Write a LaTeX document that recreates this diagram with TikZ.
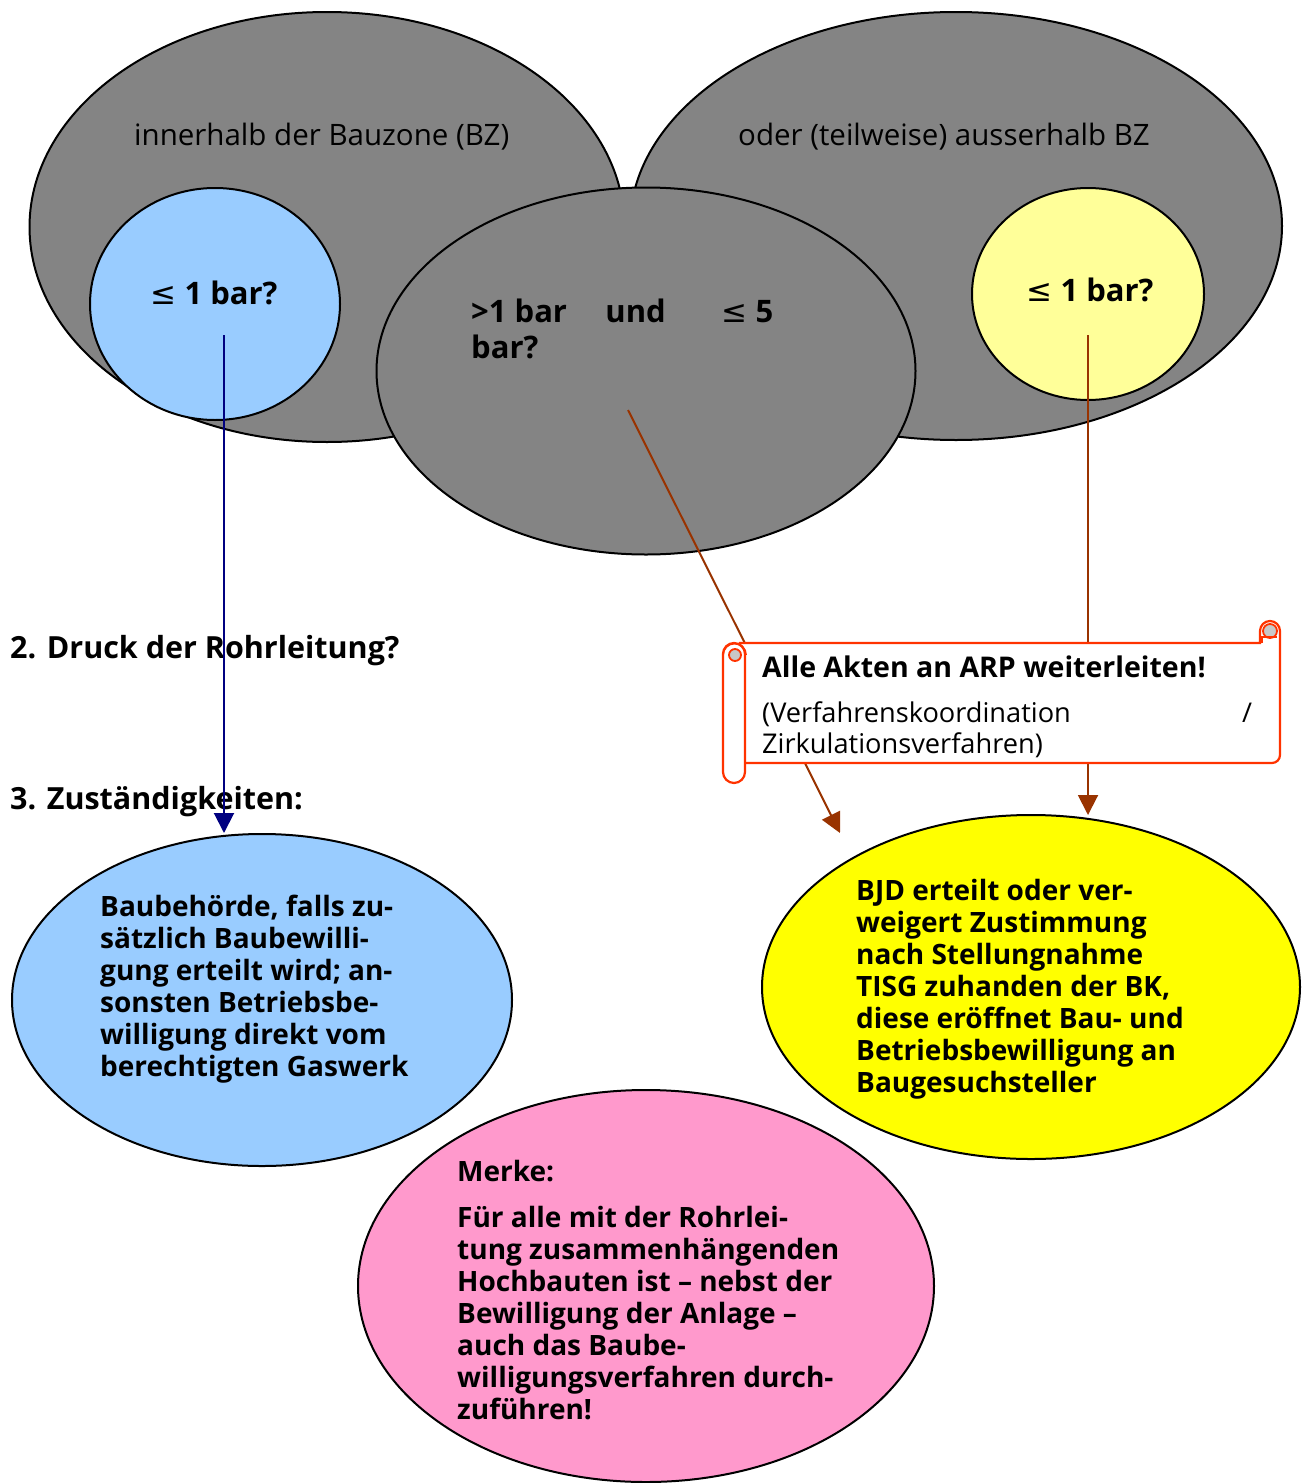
\documentclass[tikz,border=0pt]{standalone}
\usepackage{fontspec}
\setmainfont{Open Sans}
\newfontfamily\symf{DejaVu Sans}
\usetikzlibrary{arrows.meta,shapes.geometric}
\definecolor{grayfill}{HTML}{848484}
\definecolor{lblue}{HTML}{99CCFF}
\definecolor{lyel}{HTML}{FFFF99}
\definecolor{syel}{HTML}{FFFF00}
\definecolor{lpink}{HTML}{FF99CC}
\definecolor{brownc}{HTML}{993300}
\definecolor{navyc}{HTML}{000080}
\definecolor{scrollred}{HTML}{FF3300}
\definecolor{curlgray}{HTML}{C8C8C8}
\newcommand\fstop{\fontsize{29.5}{32}\selectfont}
\newcommand\fscirc{\fontsize{31}{36}\selectfont\bfseries}
\newcommand\fshead{\fontsize{30.5}{34}\selectfont\bfseries}
\newcommand\fsscb{\fontsize{28.5}{32}\selectfont\bfseries}
\newcommand\fsscn{\fontsize{27.2}{32}\selectfont}
\newcommand\fsb{\fontsize{28}{32}\selectfont\bfseries}
\newcommand\myleq{{\symf\mdseries ≤}}
\begin{document}
\begin{tikzpicture}[x=1pt,y=-1pt,
  ell/.style={ellipse, draw=black, line width=2pt, inner sep=0pt},
  lab/.style={inner sep=0pt, anchor=base west},
  arr/.style={line width=2pt, -{Triangle[length=20pt,width=20pt]}},
  scroll/.style={draw=scrollred, line width=2.2pt, fill=white}]
\useasboundingbox (0,0) rectangle (1308,1483);

% big gray zones
\node[ell, fill=grayfill, minimum width=595pt, minimum height=430pt] (inner) at (327,227) {};
\node[ell, fill=grayfill, minimum width=652pt, minimum height=428pt] (outer) at (956,226) {};
\node[ell, fill=grayfill, minimum width=539pt, minimum height=367pt] (mid) at (646,371) {};
\node[ell, fill=lblue, minimum width=250pt, minimum height=232pt] (c1) at (215,304) {};
\node[ell, fill=lyel, minimum width=232pt, minimum height=212pt] (c2) at (1088,294) {};

\node[lab, font=\fstop] (t1) at (134,145) {innerhalb der Bauzone (BZ)};
\node[lab, font=\fstop] (t2) at (738,145) {oder (teilweise) ausserhalb BZ};
\node[font=\fscirc, inner sep=0pt] (q1) at (214,293) {\myleq\ 1 bar?};
\node[font=\fscirc, inner sep=0pt] (q3) at (1090,290) {\myleq\ 1 bar?};
\node[lab, font=\fscirc] (q2) at (471,322) {\makebox[302pt][l]{>1 bar\hspace{0pt plus 1fill}und\hspace{0pt plus 1.45fill}\myleq\ 5}};
\node[lab, font=\fscirc] (q2b) at (471,358) {bar?};

% headings
\node[lab, font=\fshead] (h2) at (10,658) {2. Druck der Rohrleitung?};
\node[lab, font=\fshead] (h3) at (10,809) {3. Zuständigkeiten:};

% connectors
\coordinate (b1) at (224,335); \coordinate (b2) at (224,833);
\coordinate (r1) at (628,410); \coordinate (r2) at (840,833);
\coordinate (y1) at (1088,335); \coordinate (y2) at (1088,815);
\draw[arr, brownc] (r1) -- (r2);
\draw[arr, brownc] (y1) -- (y2);
\draw[arr, navyc] (b1) -- (b2);

% scroll
\draw[scroll] (740,643) -- (1260,643) -- (1260,631) arc[start angle=180,end angle=0,radius=10pt] -- (1280,755) arc[start angle=0,end angle=-90,radius=8pt] -- (740,763) -- cycle;
\draw[draw=scrollred, line width=1.8pt, fill=curlgray] (1270,631) circle[radius=7pt];
\draw[draw=scrollred, line width=1.8pt] (1262,643) -- (1262,637) -- (1277,637);
\draw[scroll, rounded corners=11pt] (723,643) rectangle (745,783);
\draw[draw=scrollred, line width=1.8pt, fill=curlgray] (735,655) circle[radius=6pt];
\draw[draw=scrollred, line width=1.8pt] (723,655) arc[start angle=180,end angle=0,radius=11.5pt];
\node[lab, font=\fsscb] (s1) at (762,677) {Alle Akten an ARP weiterleiten!};
\node[lab, font=\fsscn] (s2) at (762,722) {(Verfahrenskoordination};
\node[lab, font=\fsscn] (s2b) at (1242,722) {/};
\node[lab, font=\fsscn] (s3) at (762,753) {Zirkulationsverfahren)};

% result ellipses
\node[ell, fill=lblue, minimum width=500pt, minimum height=332pt] (e1) at (262,1000) {};
\node[lab, font=\fsb] (e1t) at (100,916) {\begin{tabular}[t]{@{}l@{}}Baubehörde, falls zu-\\sätzlich Baubewilli-\\gung erteilt wird; an-\\sonsten Betriebsbe-\\willigung direkt vom\\berechtigten Gaswerk\end{tabular}};

\node[ell, fill=syel, minimum width=538pt, minimum height=344pt] (e2) at (1031,987) {};
\node[lab, font=\fsb] (e2t) at (856,900) {\begin{tabular}[t]{@{}l@{}}BJD erteilt oder ver-\\weigert Zustimmung\\nach Stellungnahme\\TISG zuhanden der BK,\\diese eröffnet Bau- und\\Betriebsbewilligung an\\Baugesuchsteller\end{tabular}};

\node[ell, fill=lpink, minimum width=576pt, minimum height=392pt] (e3) at (646,1286) {};
\node[lab, font=\fsb] (e3t) at (457,1181) {\begin{tabular}[t]{@{}l@{}}Merke:\\[14pt]Für alle mit der Rohrlei-\\tung zusammenhängenden\\Hochbauten ist – nebst der\\Bewilligung der Anlage –\\auch das Baube-\\willigungsverfahren durch-\\zuführen!\end{tabular}};
\end{tikzpicture}
\end{document}
